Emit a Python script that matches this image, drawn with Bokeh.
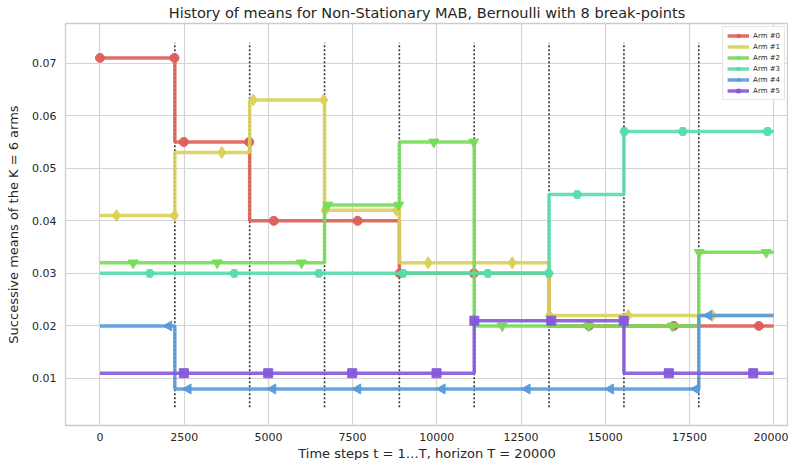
import numpy as np
from bokeh.plotting import figure
from bokeh.models import (ColumnDataSource, FixedTicker, PrintfTickFormatter,
                          Legend, LegendItem, Range1d, Title)
from bokeh.embed import file_html
from bokeh.resources import INLINE

# ---------------- data ----------------
horizon = 20000
break_points = [2222, 4444, 6667, 8889, 11111, 13333, 15556, 17778]

arm_labels = ["Arm #0", "Arm #1", "Arm #2", "Arm #3", "Arm #4", "Arm #5"]

means_arm0 = [0.071, 0.055, 0.040, 0.040, 0.030, 0.030, 0.020, 0.020, 0.020]
means_arm1 = [0.041, 0.053, 0.063, 0.042, 0.032, 0.032, 0.022, 0.022, 0.022]
means_arm2 = [0.032, 0.032, 0.032, 0.043, 0.055, 0.020, 0.020, 0.020, 0.034]
means_arm3 = [0.030, 0.030, 0.030, 0.030, 0.030, 0.030, 0.045, 0.057, 0.057]
means_arm4 = [0.020, 0.008, 0.008, 0.008, 0.008, 0.008, 0.008, 0.008, 0.022]
means_arm5 = [0.011, 0.011, 0.011, 0.011, 0.011, 0.021, 0.021, 0.011, 0.011]

# time steps where markers appear
marks_arm0 = [0, 2212, 2489, 4430, 5161, 7650, 8895, 11100, 14520, 17037, 19561]
marks_arm1 = [490, 2212, 3617, 4548, 6645, 6680, 8804, 9745, 12239, 13345, 15683, 18177]
marks_arm2 = [985, 3480, 5983, 6764, 8872, 9911, 11099, 11942, 14513, 16989, 17790, 19780]
marks_arm3 = [1480, 3984, 6497, 9002, 11514, 13326, 14168, 15564, 17304, 19819]
marks_arm4 = [2044, 2618, 5131, 7655, 10160, 12684, 15157, 17702, 18076]
marks_arm5 = [2489, 4994, 7488, 9991, 11115, 13400, 15550, 16888, 19394]

x_ticks = [0, 2500, 5000, 7500, 10000, 12500, 15000, 17500, 20000]
y_ticks = [0.01, 0.02, 0.03, 0.04, 0.05, 0.06, 0.07]

vline_ymin, vline_ymax = 0.0045, 0.0739

x_label_text = "Time steps t = 1…T, horizon T = 20000"
y_label_text = "Successive means of the K = 6 arms"
title_text = "History of means for Non-Stationary MAB, Bernoulli with 8 break-points"

# ---------------- style ----------------
colors = ["#db5f57", "#dbd057", "#75db57", "#57dbaa", "#579bdb", "#8557db"]
markers = ["circle", "diamond", "inverted_triangle", "hex", "triangle", "square"]
angles = [0, 0, 0, 0, np.pi / 2, 0]
sizes = [9, 12, 10, 9, 10, 9]
txt = "#262626"
grid = "#d4d4d4"
FONT = "DejaVu Sans"

all_means = [means_arm0, means_arm1, means_arm2, means_arm3, means_arm4, means_arm5]
all_marks = [marks_arm0, marks_arm1, marks_arm2, marks_arm3, marks_arm4, marks_arm5]

Y0, Y1 = 0.00105, 0.07755
p = figure(width=788, height=460, output_backend="svg", toolbar_location=None,
           x_range=Range1d(-1024, 20442), y_range=Range1d(Y0, Y1),
           min_border_left=65, min_border_right=0, min_border_top=3,
           min_border_bottom=0, title=title_text)

p.title.text_font = FONT
p.title.text_font_size = "14.5px"
p.title.text_font_style = "normal"
p.title.text_color = txt
p.title.align = "center"
p.title.offset = 22
p.title.standoff = 5

p.background_fill_color = "white"
p.border_fill_color = "white"
p.outline_line_color = "#cccccc"
p.outline_line_width = 1.3

for ax in (p.xaxis[0], p.yaxis[0]):
    ax.axis_line_color = None
    ax.major_tick_line_color = None
    ax.minor_tick_line_color = None
    ax.major_tick_out = 0
    ax.major_tick_in = 0
    ax.minor_tick_out = 0
    ax.minor_tick_in = 0
    ax.major_label_text_font = FONT
    ax.major_label_text_font_size = "11px"
    ax.major_label_text_color = txt
    ax.axis_label_text_font = FONT
    ax.axis_label_text_font_size = "13px"
    ax.axis_label_text_font_style = "normal"
    ax.axis_label_text_color = txt

p.xaxis.ticker = FixedTicker(ticks=x_ticks)
p.yaxis.ticker = FixedTicker(ticks=y_ticks)
p.yaxis.formatter = PrintfTickFormatter(format="%.2f")
p.xaxis.major_label_standoff = 7
p.yaxis.major_label_standoff = 9
p.yaxis.axis_label = y_label_text
p.yaxis.axis_label_standoff = 8

# x-axis label as a title panel below the axis
x_title = Title(text=x_label_text, align="center", offset=10, standoff=0,
                text_font=FONT, text_font_size="13px", text_font_style="normal",
                text_color=txt)
p.add_layout(x_title, "below")

p.xgrid.grid_line_color = grid
p.ygrid.grid_line_color = grid
p.xgrid.grid_line_width = 1.2
p.ygrid.grid_line_width = 1.2

# break-point vertical lines
p.segment(x0=break_points, x1=break_points,
          y0=[vline_ymin] * len(break_points), y1=[vline_ymax] * len(break_points),
          line_color="#333333", line_width=1.6, line_dash="2 2")

step_x = [0] + break_points + [horizon]
items = []
for i in range(6):
    m = all_means[i]
    step_y = m + [m[-1]]
    lr = p.step(step_x, step_y, mode="after", line_color=colors[i], line_width=3.5,
                line_alpha=0.9)
    mx = np.array(all_marks[i], dtype=float)
    idx = np.searchsorted(np.array(break_points), mx, side="right")
    my = np.array(m)[idx]
    src = ColumnDataSource(dict(x=mx, y=my))
    sr = p.scatter("x", "y", source=src, marker=markers[i], size=sizes[i],
                   angle=angles[i], fill_color=colors[i], line_color=colors[i],
                   fill_alpha=0.95, line_alpha=0.95)
    items.append(LegendItem(label=arm_labels[i], renderers=[lr, sr]))

legend = Legend(items=items, location="top_right")
legend.label_text_font = FONT
legend.label_text_font_size = "7px"
legend.label_text_color = txt
legend.label_height = 8
legend.glyph_height = 9
legend.glyph_width = 22
legend.spacing = 2
legend.padding = 4
legend.margin = 3
legend.label_standoff = 4
legend.border_line_color = "#cccccc"
legend.background_fill_alpha = 0.9
p.add_layout(legend)

open("out.html", "w").write(file_html(p, INLINE))
